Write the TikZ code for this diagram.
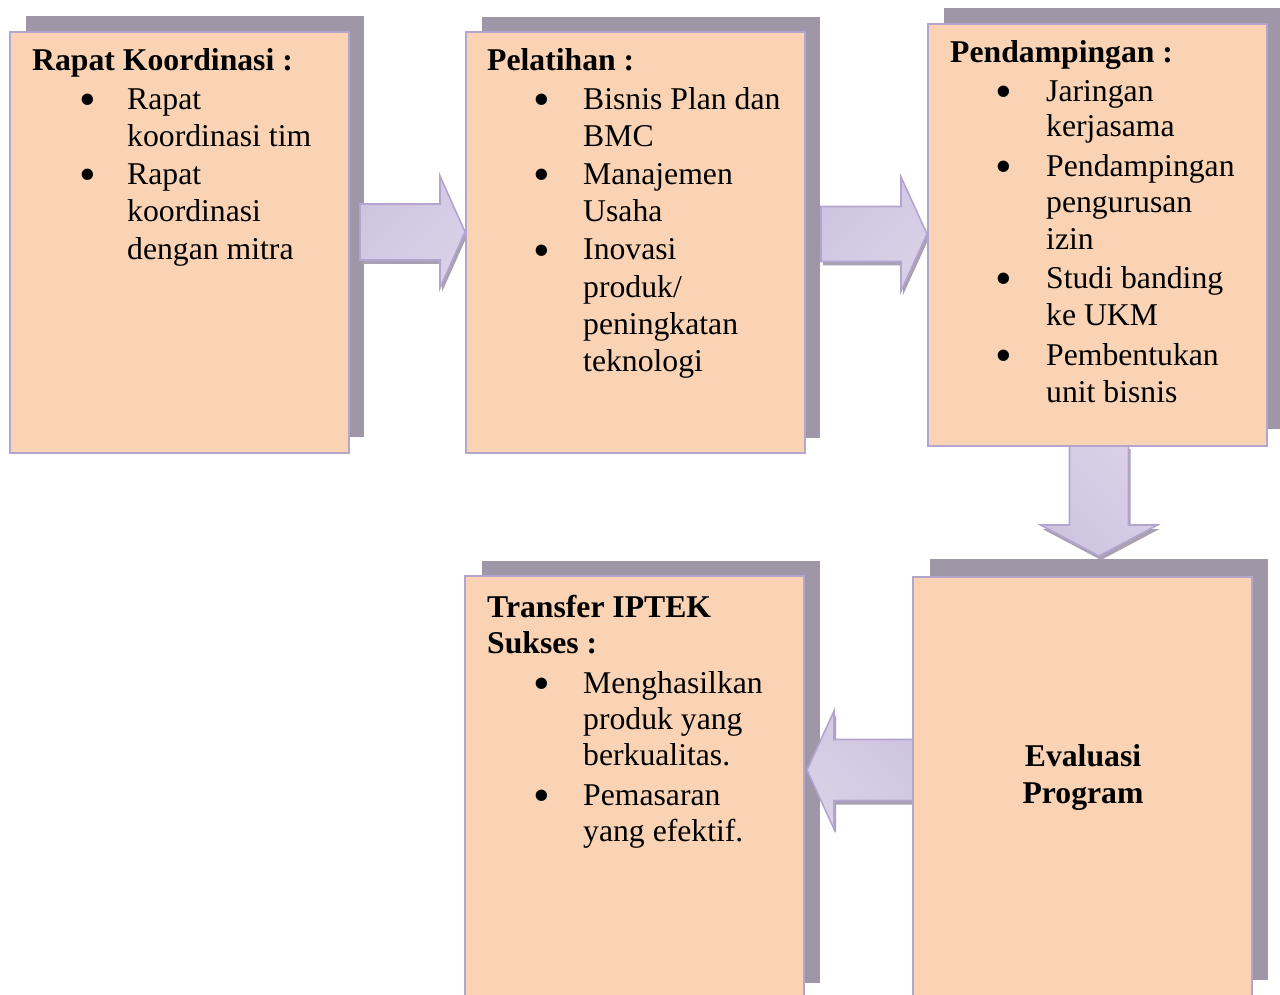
\documentclass[tikz,border=0pt]{standalone}
\usepackage{fontspec}
\usepackage{graphicx}
\setmainfont{Liberation Serif}
\definecolor{peach}{HTML}{F9D3B4}
\definecolor{lav}{HTML}{B4A5CE}
\definecolor{shgray}{HTML}{9F97A8}
\definecolor{arrlight}{HTML}{E5E1EF}
\definecolor{arrdark}{HTML}{CEC4E1}
\definecolor{arrmid}{HTML}{D9D1E7}
\definecolor{arredge}{HTML}{B3A5CF}
\definecolor{arrshade}{HTML}{A9A1B3}
\newcommand\mainsize{\fontsize{31.7}{37}\selectfont}
\tikzset{
  shadowbox/.style={fill=shgray, draw=none, inner sep=0pt, outer sep=0pt, anchor=north west, minimum width=338pt},
  mainbox/.style={fill=peach, draw=lav, line width=2.4pt, inner sep=0pt, outer sep=0pt, anchor=north west, minimum width=339pt},
  txt/.style={anchor=base west, inner sep=0pt, font=\mainsize},
  ttl/.style={anchor=base west, inner sep=0pt, font=\mainsize\bfseries},
  ctr/.style={anchor=base, inner sep=0pt, font=\mainsize\bfseries},
  bul/.style={anchor=base, inner sep=0pt, font=\mainsize},
  arrbody/.style={draw=arredge, line width=1.6pt, line join=miter, left color=arrdark, middle color=arrlight, right color=arrmid, shading angle=#1},
  arrshadow/.style={fill=arrshade, draw=none}
}
% horizontal block arrow: xtail, xheadbase, xtip, ycentre, shaft half, head half
\newcommand\hpath[6]{({#1},{#4-#5}) -- ({#2},{#4-#5}) -- ({#2},{#4-#6}) -- ({#3},{#4}) -- ({#2},{#4+#6}) -- ({#2},{#4+#5}) -- ({#1},{#4+#5}) -- cycle}
% vertical block arrow: ytail, yheadbase, ytip, xcentre, shaft half, head half
\newcommand\vpath[6]{({#4-#5},{#1}) -- ({#4-#5},{#2}) -- ({#4-#6},{#2}) -- ({#4},{#3}) -- ({#4+#6},{#2}) -- ({#4+#5},{#2}) -- ({#4+#5},{#1}) -- cycle}
\newcommand\bul[3]{\node[bul] (#1) at (#2,#3) {\raisebox{-6pt}{\scalebox{1.5}{\textbullet}}};}
\begin{document}
\begin{tikzpicture}[x=1pt,y=-1pt]
\useasboundingbox (0,0) rectangle (1280,995);
\clip (0,0) rectangle (1280,995);
% shadows of the boxes
\node[shadowbox, minimum height=421pt] (s1) at (26,16) {};
\node[shadowbox, minimum height=421pt] (s2) at (482,17) {};
\node[shadowbox, minimum height=421pt] (s3) at (944,8) {};
\node[shadowbox, minimum height=422pt] (s4) at (482,561) {};
\node[shadowbox, minimum height=421pt] (s5) at (930,559) {};
% block arrows
\coordinate (a1) at (465,232);
\coordinate (a2) at (927,234);
\coordinate (a3) at (1099,556);
\coordinate (a4) at (807,770);
\begin{scope}[shift={(2,4)}]
  \fill[arrshadow] \hpath{360}{440}{465}{232}{28}{56};
  \fill[arrshadow] \hpath{821}{901}{927}{234}{27.5}{57};
  \fill[arrshadow] \vpath{445}{525}{556}{1099}{29.5}{58.5};
  \fill[arrshadow] \hpath{913}{834}{807}{770}{30.5}{59};
\end{scope}
\path[arrbody=45] \hpath{360}{440}{465}{232}{28}{56};
\path[arrbody=45] \hpath{821}{901}{927}{234}{27.5}{57};
\path[arrbody=135] \vpath{445}{525}{556}{1099}{29.5}{58.5};
\path[arrbody=-45] \hpath{913}{834}{807}{770}{30.5}{59};
% main boxes
\node[mainbox, minimum height=421pt] (b1) at (10,32) {};
\node[mainbox, minimum height=421pt] (b2) at (466,32) {};
\node[mainbox, minimum height=422pt] (b3) at (928,24) {};
\node[mainbox, minimum height=440pt] (b4) at (465,576) {};
\node[mainbox, minimum height=440pt] (b5) at (913,577) {};
% box 1
\node[ttl] (t1) at (32,71) {Rapat Koordinasi :};
\bul{p1a}{88}{110}
\node[txt] (l1a) at (127,110) {Rapat};
\node[txt] (l1b) at (127,147) {koordinasi tim};
\bul{p1b}{88}{185}
\node[txt] (l1c) at (127,185) {Rapat};
\node[txt] (l1d) at (127,222) {koordinasi};
\node[txt] (l1e) at (127,259) {dengan mitra};
% box 2
\node[ttl] (t2) at (487,71) {Pelatihan :};
\bul{p2a}{542}{110}
\node[txt] (l2a) at (583,110) {Bisnis Plan dan};
\node[txt] (l2b) at (583,147) {BMC};
\bul{p2b}{542}{185}
\node[txt] (l2c) at (583,185) {Manajemen};
\node[txt] (l2d) at (583,222) {Usaha};
\bul{p2c}{542}{260}
\node[txt] (l2e) at (583,260) {Inovasi};
\node[txt] (l2f) at (583,297) {produk/};
\node[txt] (l2g) at (583,334) {peningkatan};
\node[txt] (l2h) at (583,371) {teknologi};
% box 3
\node[ttl] (t3) at (950,63) {Pendampingan :};
\bul{p3a}{1004}{102}
\node[txt] (l3a) at (1046,102) {Jaringan};
\node[txt] (l3b) at (1046,137) {kerjasama};
\bul{p3b}{1004}{177}
\node[txt] (l3c) at (1046,177) {Pendampingan};
\node[txt] (l3d) at (1046,213) {pengurusan};
\node[txt] (l3e) at (1046,250) {izin};
\bul{p3c}{1004}{288}
\node[txt] (l3f) at (1046,288) {Studi banding};
\node[txt] (l3g) at (1046,325) {ke UKM};
\bul{p3d}{1004}{365}
\node[txt] (l3h) at (1046,365) {Pembentukan};
\node[txt] (l3i) at (1046,402) {unit bisnis};
% box 4
\node[ttl] (t4a) at (487,617) {Transfer IPTEK};
\node[ttl] (t4b) at (487,653) {Sukses :};
\bul{p4a}{542}{693}
\node[txt] (l4a) at (583,693) {Menghasilkan};
\node[txt] (l4b) at (583,729) {produk yang};
\node[txt] (l4c) at (583,765) {berkualitas.};
\bul{p4b}{542}{805}
\node[txt] (l4d) at (583,805) {Pemasaran};
\node[txt] (l4e) at (583,841) {yang efektif.};
% box 5
\node[ctr] (t5a) at (1083,766) {Evaluasi};
\node[ctr] (t5b) at (1083,803) {Program};
\end{tikzpicture}
\end{document}
